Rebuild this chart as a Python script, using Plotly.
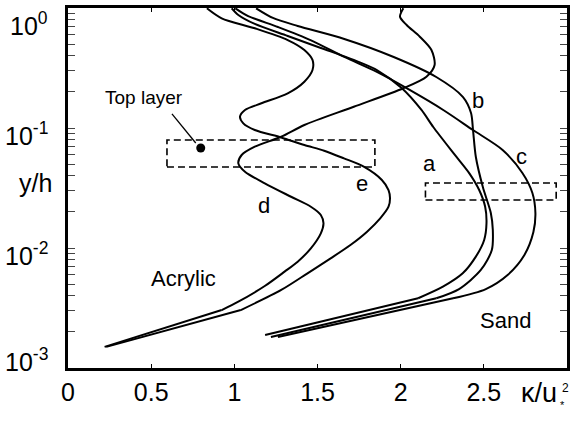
import math
import plotly.graph_objects as go

# Turbulent kinetic energy profiles kappa/u*^2 versus y/h.
# Each series runs from the wall (first point) up to the free surface.
# The first segment (wall point -> kink) is straight, the rest is smooth.

# ---- Sand bed ----
kappa_a = [1.185, 2.105, 2.254, 2.373, 2.452, 2.502, 2.516, 2.508, 2.472, 2.413, 2.326,
           2.196, 2.125, 2.006, 1.857, 1.718, 1.520, 1.321, 1.123, 1.024, 0.984]
yh_a = [0.001884, 0.00381, 0.00476, 0.00615, 0.00847, 0.01167, 0.01607, 0.02208, 0.03041,
        0.04188, 0.0596, 0.1019, 0.1413, 0.2153, 0.3041, 0.369, 0.4645, 0.5848,
        0.7362, 0.875, 0.994]

kappa_b = [1.220, 2.214, 2.351, 2.482, 2.548, 2.554, 2.542, 2.494, 2.452, 2.435, 2.423,
           2.375, 2.214, 1.958, 1.661, 1.381, 1.232, 1.131]
yh_b = [0.001811, 0.00381, 0.00455, 0.00656, 0.00962, 0.01413, 0.01959, 0.03221, 0.05728,
        0.09616, 0.1334, 0.1811, 0.2661, 0.3908, 0.5521, 0.7079, 0.826, 0.994]

kappa_c = [1.262, 2.315, 2.512, 2.643, 2.744, 2.798, 2.810, 2.792, 2.732, 2.613, 2.435,
           2.256, 2.054, 1.857, 1.661, 1.458, 1.262, 1.083, 1.006]
yh_c = [0.001811, 0.00381, 0.00455, 0.00596, 0.00875, 0.01358, 0.01959, 0.02871, 0.04217,
        0.06561, 0.09616, 0.1413, 0.2075, 0.2931, 0.3908, 0.5408, 0.695, 0.857, 0.994]

# ---- Acrylic bed ----
kappa_d = [0.220, 0.924, 1.024, 1.183, 1.302, 1.381, 1.460, 1.520, 1.536, 1.520, 1.460,
           1.341, 1.183, 1.064, 1.024, 1.044, 1.123, 1.282, 1.421, 1.718, 2.016, 2.155,
           2.204, 2.185, 2.115, 2.036, 1.996, 2.016]
yh_d = [0.0015, 0.00304, 0.00357, 0.00482, 0.00635, 0.00769, 0.00993, 0.01324, 0.01607,
        0.01884, 0.02208, 0.02673, 0.03459, 0.04325, 0.05082, 0.05957, 0.06982, 0.08453,
        0.1059, 0.1503, 0.2143, 0.2673, 0.335, 0.4467, 0.5768, 0.7211, 0.8453, 0.995]

kappa_e = [0.230, 1.039, 1.282, 1.440, 1.579, 1.698, 1.798, 1.877, 1.927, 1.936, 1.927,
           1.887, 1.778, 1.659, 1.540, 1.421, 1.282, 1.123, 1.054, 1.034, 1.064, 1.163,
           1.321, 1.421, 1.470, 1.470, 1.421, 1.321, 1.123, 0.924, 0.835]
yh_e = [0.0015, 0.00304, 0.00447, 0.00615, 0.0082, 0.01059, 0.01368, 0.01766, 0.02208,
        0.02594, 0.03041, 0.0369, 0.04764, 0.05585, 0.06471, 0.07211, 0.08337, 0.09616,
        0.1094, 0.1242, 0.1413, 0.1607, 0.1945, 0.2432, 0.3041, 0.369, 0.4467, 0.5408,
        0.6776, 0.8204, 0.995]

# Marked point of the top layer and the two dashed regions (kappa range, y/h range)
top_layer_point = (0.798, 0.0681)
top_layer_leader = dict(x0=0.625, y0=0.131, x1=0.768, y1=0.075)
acrylic_box = dict(x0=0.595, x1=1.845, y0=0.0473, y1=0.0794)
sand_box = dict(x0=2.149, x1=2.935, y0=0.0251, y1=0.0348)

# Axis ticks
x_ticks = [0, 0.5, 1, 1.5, 2, 2.5]
x_tick_text = ["0", "0.5", "1", "1.5", "2", "2.5"]
y_major = [1e0, 1e-1, 1e-2, 1e-3]
y_major_text = ["10<sup>0</sup>", "10<sup>-1</sup>", "10<sup>-2</sup>", "10<sup>-3</sup>"]
y_label_shift = [-16, -6, -6, 8]

FONT = "Liberation Sans, Arial, Helvetica, sans-serif"

fig = go.Figure()

series = [(kappa_a, yh_a), (kappa_b, yh_b), (kappa_c, yh_c), (kappa_d, yh_d), (kappa_e, yh_e)]
for kx, ky in series:
    # straight near-wall segment
    fig.add_trace(go.Scatter(x=kx[:2], y=ky[:2], mode="lines",
                             line=dict(color="black", width=2), showlegend=False,
                             hoverinfo="skip"))
    # smooth outer profile
    fig.add_trace(go.Scatter(x=kx[1:], y=ky[1:], mode="lines",
                             line=dict(color="black", width=2, shape="spline", smoothing=0.8),
                             showlegend=False, hoverinfo="skip"))

fig.add_trace(go.Scatter(x=[top_layer_point[0]], y=[top_layer_point[1]], mode="markers",
                         marker=dict(color="black", size=9), showlegend=False,
                         hoverinfo="skip"))

# region outlines and leader drawn as line traces on the data axes
dash = dict(color="black", width=1.6, dash="7px,4px")
for box in (acrylic_box, sand_box):
    fig.add_trace(go.Scatter(
        x=[box["x0"], box["x1"], box["x1"], box["x0"], box["x0"]],
        y=[box["y0"], box["y0"], box["y1"], box["y1"], box["y0"]],
        mode="lines", line=dash, showlegend=False, hoverinfo="skip"))
fig.add_trace(go.Scatter(x=[top_layer_leader["x0"], top_layer_leader["x1"]],
                         y=[top_layer_leader["y0"], top_layer_leader["y1"]],
                         mode="lines", line=dict(color="black", width=1.3),
                         showlegend=False, hoverinfo="skip"))

minor_vals = []
for dec in [1e-3, 1e-2, 1e-1]:
    for m in range(1, 10):
        minor_vals.append(m * dec)
minor_vals.append(1.0)

fig.update_xaxes(range=[0, 3], tickvals=x_ticks, ticktext=x_tick_text,
                 ticks="inside", ticklen=4, tickwidth=1, tickcolor="black",
                 showline=True, linecolor="black", linewidth=2.5, mirror="allticks",
                 showgrid=False, zeroline=False,
                 tickfont=dict(family=FONT, size=25, color="black"))
fig.update_yaxes(type="log", range=[-3, 0], tickvals=minor_vals,
                 ticktext=[""] * len(minor_vals),
                 ticks="inside", ticklen=7, tickwidth=1, tickcolor="#444",
                 showline=True, linecolor="black", linewidth=2.5, mirror="allticks",
                 showgrid=False, zeroline=False)

ann = []
for v, t, s in zip(y_major, y_major_text, y_label_shift):
    ann.append(dict(x=0, xref="paper", xshift=-18, xanchor="right",
                    y=math.log10(v), yref="y", yshift=s, yanchor="middle",
                    text=t, showarrow=False, font=dict(family=FONT, size=25, color="black")))


def label(text, x, yh, size):
    return dict(x=x, y=math.log10(yh), xref="x", yref="y", text=text, showarrow=False,
                font=dict(family=FONT, size=size, color="black"))


ann += [
    label("Top layer", 0.458, 0.178, 19),
    label("a", 2.173, 0.051, 22),
    label("b", 2.462, 0.171, 22),
    label("c", 2.724, 0.0577, 22),
    label("d", 1.177, 0.0228, 22),
    label("e", 1.768, 0.0346, 22),
    label("Acrylic", 0.696, 0.00562, 22),
    label("Sand", 2.631, 0.00251, 22),
    dict(x=0, xref="paper", xshift=-33, xanchor="center", y=0.514, yref="paper",
         text="y/h", showarrow=False, font=dict(family=FONT, size=25, color="black")),
    dict(x=0.9846, xref="paper", xanchor="right", y=-0.117, yref="paper", text="κ/u",
         showarrow=False, font=dict(family=FONT, size=27, color="black")),
    dict(x=0.9846, xref="paper", xanchor="left", xshift=-1, y=-0.125, yref="paper", text="*",
         showarrow=False, font=dict(family=FONT, size=11, color="black")),
    dict(x=0.9846, xref="paper", xanchor="left", xshift=1, y=-0.08, yref="paper", text="2",
         showarrow=False, font=dict(family=FONT, size=12, color="black")),
]

fig.update_layout(width=573, height=425, margin=dict(l=68, r=3, t=8, b=57),
                  plot_bgcolor="white", paper_bgcolor="white", annotations=ann,
                  font=dict(family=FONT, color="black"))

fig.write_html("out.html")
